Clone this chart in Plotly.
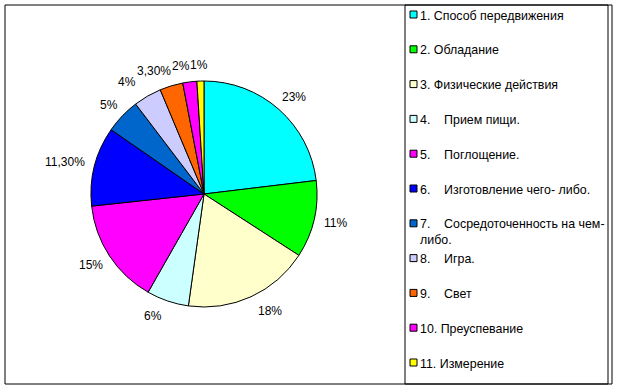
import math
import plotly.graph_objects as go

labels = [
    "1. Способ передвижения",
    "2. Обладание",
    "3. Физические действия",
    "4.\u00a0\u00a0\u00a0\u00a0Прием пищи.",
    "5.\u00a0\u00a0\u00a0\u00a0Поглощение.",
    "6.\u00a0\u00a0\u00a0\u00a0Изготовление чего- либо.",
    "7.\u00a0\u00a0\u00a0\u00a0Сосредоточенность на чем-<br>либо.",
    "8.\u00a0\u00a0\u00a0\u00a0Игра.",
    "9.\u00a0\u00a0\u00a0\u00a0Свет",
    "10. Преуспевание",
    "11. Измерение",
]
values = [23, 11, 18, 6, 15, 11.3, 5, 4, 3.3, 2, 1]
value_text = ["23%", "11%", "18%", "6%", "15%", "11,30%", "5%", "4%", "3,30%", "2%", "1%"]
colors = ["#00FFFF", "#00FF00", "#FFFFCC", "#CCFFFF", "#FF00FF", "#0000FF",
          "#0066CC", "#CCCCFF", "#FF6600", "#FF00FF", "#FFFF00"]

W, H = 619, 390
FONT = "Arial, Liberation Sans, sans-serif"

def px(x):
    return x / W

def py(y):
    return 1 - y / H

cx, cy, r = 204, 194, 113

fig = go.Figure(go.Pie(
    labels=labels,
    values=values,
    textinfo="none",
    sort=False,
    direction="clockwise",
    rotation=0,
    marker=dict(colors=colors, line=dict(color="black", width=1)),
    domain=dict(x=[px(cx - r), px(cx + r)], y=[py(cy + r), py(cy - r)]),
    showlegend=False,
    hoverinfo="skip",
))

# percentage labels placed just outside each slice, at the slice's mid angle
char_w = {"%": 10.67, ",": 3.33}
total = sum(values)
boxes = []
cum = 0.0
for v, t in zip(values, value_text):
    mid = (cum + v / 2) / total * 2 * math.pi
    cum += v
    s, c = math.sin(mid), math.cos(mid)
    w = sum(char_w.get(ch, 6.67) for ch in t)
    d = r + 10
    lx = cx + d * s + (w / 2) * s
    if abs(c) > 0.9:
        lx += 30 * s * c * c
    ly = cy - d * c - 6 * c
    boxes.append([lx, ly, w, s, c, t])

# resolve overlaps in the upper-left quadrant by pushing labels leftwards
LH = 14
for i in range(len(boxes) - 2, -1, -1):
    b, n = boxes[i], boxes[i + 1]
    if b[3] < 0 and b[4] > 0 and n[3] < 0 and n[4] > 0:
        if abs(b[1] - n[1]) < LH:
            right = b[0] + b[2] / 2
            left_n = n[0] - n[2] / 2
            if right > left_n - 1:
                b[0] -= right - (left_n - 1)

annotations = []
for lx, ly, w, s, c, t in boxes:
    annotations.append(dict(xref="paper", yref="paper", x=px(lx), y=py(ly),
                            xanchor="center", yanchor="middle", showarrow=False,
                            text=t, font=dict(family=FONT, size=12, color="black")))

shapes = [
    dict(type="rect", xref="paper", yref="paper", x0=px(5), x1=px(612), y0=py(384), y1=py(5),
         line=dict(color="black", width=1)),
    dict(type="rect", xref="paper", yref="paper", x0=px(405), x1=px(608), y0=py(384), y1=py(5),
         line=dict(color="black", width=1)),
]
y0, step = 14.5, 34.8
for i, (lab, col) in enumerate(zip(labels, colors)):
    yc = y0 + i * step
    shapes.append(dict(type="rect", xref="paper", yref="paper",
                       x0=px(410), x1=px(417), y0=py(yc + 3.5), y1=py(yc - 3.5),
                       fillcolor=col, line=dict(color="black", width=1)))
    annotations.append(dict(xref="paper", yref="paper", x=px(418), y=py(yc - 8),
                            xanchor="left", yanchor="top", align="left", showarrow=False,
                            text=lab, font=dict(family=FONT, size=12.4, color="black")))

fig.update_layout(
    width=W, height=H,
    margin=dict(l=0, r=0, t=0, b=0),
    paper_bgcolor="white", plot_bgcolor="white",
    shapes=shapes, annotations=annotations,
)
fig.write_html("out.html", config={"displayModeBar": False},
               post_script="document.body.style.margin='0';")
